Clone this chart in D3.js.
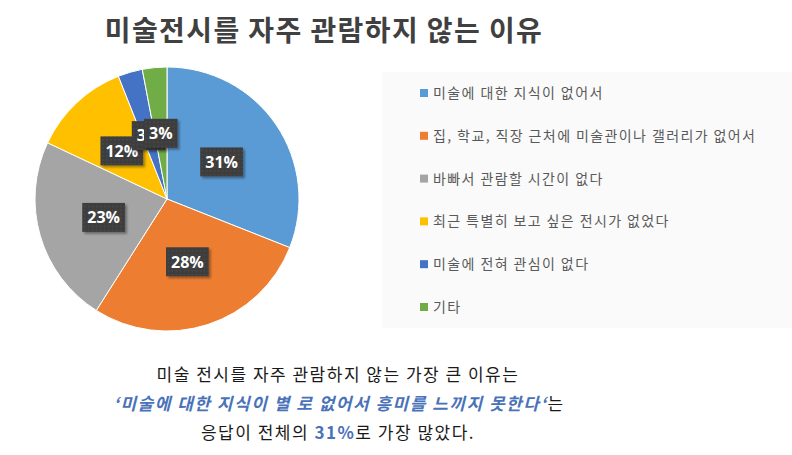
<!DOCTYPE html>
<html>
<head>
<meta charset="utf-8">
<script src="https://cdn.jsdelivr.net/npm/d3@7"></script>
<style>
    body { margin: 0; background: #fff; }
    svg { display: block; }
</style>
</head>
<body>
<svg id="chart"></svg>
<script>
// data
const categories = [
    "미술에 대한 지식이 없어서",
    "집, 학교, 직장 근처에 미술관이나 갤러리가 없어서",
    "바빠서 관람할 시간이 없다",
    "최근 특별히 보고 싶은 전시가 없었다",
    "미술에 전혀 관심이 없다",
    "기타"
];
const values = [31, 28, 23, 12, 3, 3];
const colors = ["#5b9bd5", "#ed7d31", "#a5a5a5", "#ffc000", "#4472c4", "#70ad47"];

const title = "미술전시를 자주 관람하지 않는 이유";

let svgWidth = 792;
let svgHeight = 455;
let korFont = "'Noto Sans CJK KR', 'Noto Sans', sans-serif";

const svg = d3.select("#chart")
    .attr("width", svgWidth)
    .attr("height", svgHeight);

// dotted texture for the data labels
const defs = svg.append("defs");
const pat = defs.append("pattern")
    .attr("id", "dots")
    .attr("width", 4)
    .attr("height", 4)
    .attr("patternUnits", "userSpaceOnUse");
pat.append("rect").attr("width", 4).attr("height", 4).attr("fill", "#3c3c3c");
pat.append("circle").attr("cx", 1).attr("cy", 1).attr("r", 0.7).attr("fill", "#575757");

const shadow = defs.append("filter").attr("id", "shadow")
    .attr("x", "-20%").attr("y", "-20%").attr("width", "150%").attr("height", "150%");
shadow.append("feDropShadow")
    .attr("dx", 2).attr("dy", 2).attr("stdDeviation", 1.2)
    .attr("flood-color", "#000").attr("flood-opacity", 0.35);

// title
svg.append("text")
    .attr("x", 324)
    .attr("y", 41)
    .attr("text-anchor", "middle")
    .attr("font-family", korFont)
    .attr("font-weight", "bold")
    .attr("font-size", 28)
    .attr("letter-spacing", 1.4)
    .attr("fill", "#404040")
    .text(title);

// pie
let cx = 167, cy = 199, radius = 132;
const pie = d3.pie().sort(null).value(d => d);
const arcs = pie(values);
const arc = d3.arc().innerRadius(0).outerRadius(radius);
const labelArc = d3.arc().innerRadius(66).outerRadius(66);

const g = svg.append("g").attr("transform", "translate(" + cx + "," + cy + ")");

g.selectAll("path.slice")
    .data(arcs)
    .enter().append("path")
    .attr("class", "slice")
    .attr("d", arc)
    .attr("fill", (d, i) => colors[i])
    .attr("stroke", "#fff")
    .attr("stroke-width", 1);

// data labels
const labels = g.selectAll("g.label")
    .data(arcs)
    .enter().append("g")
    .attr("class", "label")
    .attr("transform", d => "translate(" + labelArc.centroid(d) + ")");

labels.append("rect")
    .attr("fill", "url(#dots)")
    .attr("filter", "url(#shadow)");

labels.append("text")
    .attr("text-anchor", "middle")
    .attr("dy", "0.36em")
    .attr("font-family", "'Open Sans', 'Noto Sans', sans-serif")
    .attr("font-weight", "bold")
    .attr("font-size", 16)
    .attr("fill", "#fff")
    .text(d => d.data + "%");

labels.each(function() {
    const t = d3.select(this).select("text").node().getBBox();
    d3.select(this).select("rect")
        .attr("x", t.x - 5)
        .attr("y", -14.5)
        .attr("width", t.width + 10)
        .attr("height", 29);
});

// legend
svg.append("rect")
    .attr("x", 382)
    .attr("y", 72)
    .attr("width", svgWidth - 382)
    .attr("height", 256)
    .attr("fill", "#fafafa");

const legendY = d3.scalePoint()
    .domain(categories)
    .range([93, 307]);

const legend = svg.selectAll("g.legend")
    .data(categories)
    .enter().append("g")
    .attr("class", "legend")
    .attr("transform", d => "translate(420," + legendY(d) + ")");

legend.append("rect")
    .attr("x", 0)
    .attr("y", -4)
    .attr("width", 8)
    .attr("height", 8)
    .attr("fill", (d, i) => colors[i]);

legend.append("text")
    .attr("x", 13)
    .attr("dy", "0.36em")
    .attr("font-family", korFont)
    .attr("font-size", 14)
    .attr("letter-spacing", 1.4)
    .attr("fill", "#595959")
    .text(d => d);

// summary text below
const note = svg.append("g")
    .attr("font-family", korFont)
    .attr("font-size", 17)
    .attr("letter-spacing", 1.5)
    .attr("fill", "#1a1a1a")
    .attr("text-anchor", "middle");

note.append("text")
    .attr("x", 338).attr("y", 381)
    .text("미술 전시를 자주 관람하지 않는 가장 큰 이유는");

const line2 = note.append("text").attr("x", 339).attr("y", 410);
line2.append("tspan")
    .attr("font-style", "italic")
    .attr("font-weight", "bold")
    .attr("fill", "#4a72b8")
    .text("‘미술에 대한 지식이 별 로 없어서 흥미를 느끼지 못한다‘");
line2.append("tspan").text("는");

const line3 = note.append("text").attr("x", 338).attr("y", 439);
line3.append("tspan").text("응답이 전체의 ");
line3.append("tspan")
    .attr("font-weight", "bold")
    .attr("fill", "#4a72b8")
    .text("31%");
line3.append("tspan").text("로 가장 많았다.");
</script>
</body>
</html>
